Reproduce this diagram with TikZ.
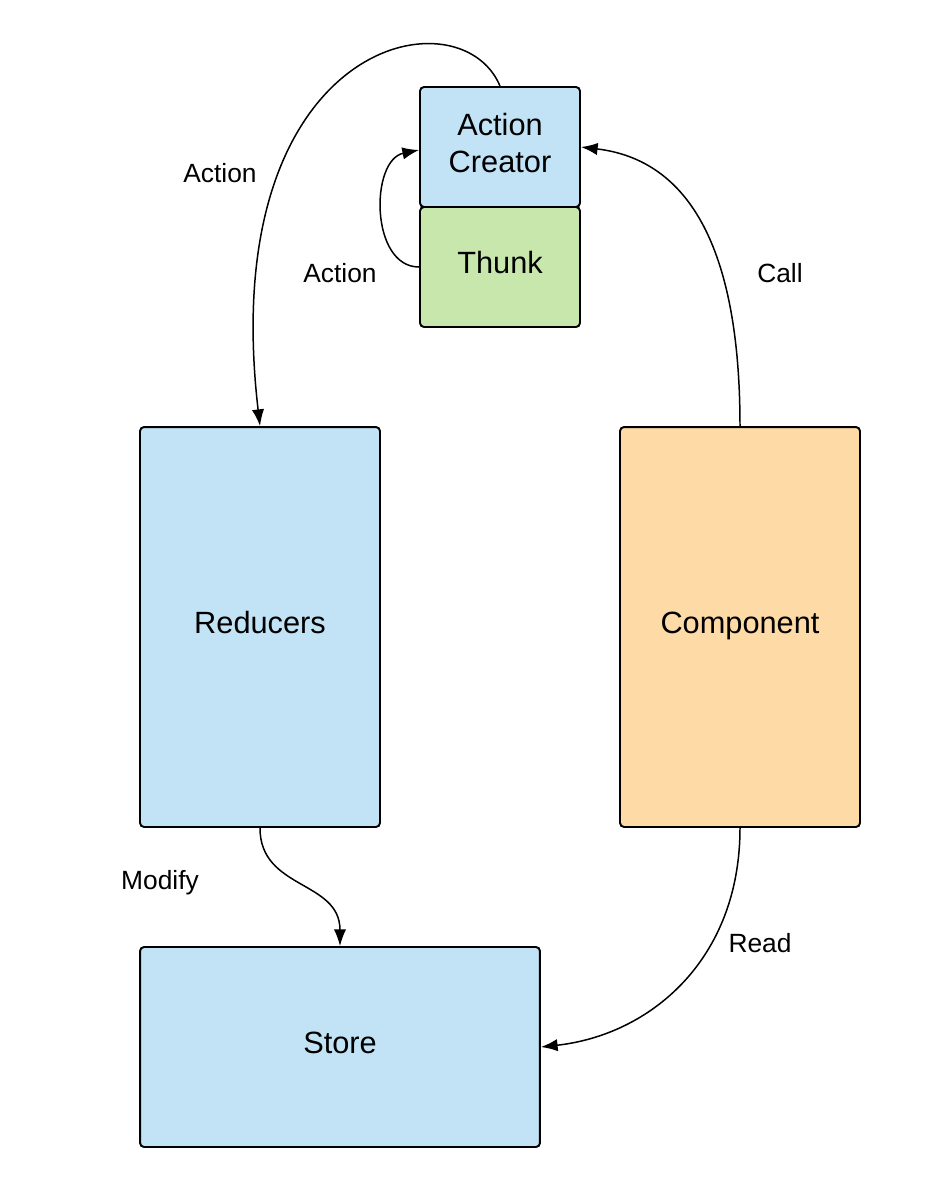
\documentclass[tikz,border=0pt]{standalone}
\usepackage{fontspec}
\setmainfont{Liberation Sans}
\usetikzlibrary{arrows.meta}

\definecolor{boxblue}{RGB}{194,227,245}
\definecolor{boxgreen}{RGB}{200,231,172}
\definecolor{boxorange}{RGB}{253,218,166}

\tikzset{
  block/.style={draw=black, line width=1.1pt, rounded corners=0.08cm,
    inner sep=0pt, align=center, text depth=5pt, font=\fontsize{17.5}{21}\selectfont},
  flow/.style={line width=0.85pt, -{Latex[length=9.5pt,width=7pt]}},
  lbl/.style={font=\fontsize{15}{18}\selectfont}
}

\begin{document}
\begin{tikzpicture}[x=0.02cm, y=-0.02cm]
  \useasboundingbox (0,0) rectangle (940,1187);

  \node[block, fill=boxblue, minimum width=3.2cm, minimum height=2.4cm] (creator) at (500,147) {Action\\Creator};
  \node[block, fill=boxgreen, minimum width=3.2cm, minimum height=2.4cm] (thunk) at (500,267) {Thunk};
  \node[block, fill=boxblue, minimum width=4.8cm, minimum height=8cm] (reducers) at (260,627) {Reducers};
  \node[block, fill=boxorange, minimum width=4.8cm, minimum height=8cm] (component) at (740,627) {Component};
  \node[block, fill=boxblue, minimum width=8cm, minimum height=4cm] (store) at (340,1047) {Store};

  \draw[flow] (creator.north) .. controls (460,-10) and (215,40) .. (reducers.north);
  \draw[flow] (thunk.west) .. controls (370,267) and (370,160) .. ([yshift=-0.06cm]creator.west);
  \draw[flow] (component.north) .. controls (740,250) and (690,160) .. (creator.east);
  \draw[flow] (reducers.south) .. controls (260,890) and (340,880) .. (store.north);
  \draw[flow] (component.south) .. controls (740,960) and (650,1035) .. (store.east);

  \node[lbl] (l1) at (220,173) {Action};
  \node[lbl] (l2) at (340,273) {Action};
  \node[lbl] (l3) at (780,273) {Call};
  \node[lbl] (l4) at (160,883) {Modify};
  \node[lbl] (l5) at (760,943) {Read};
\end{tikzpicture}
\end{document}
